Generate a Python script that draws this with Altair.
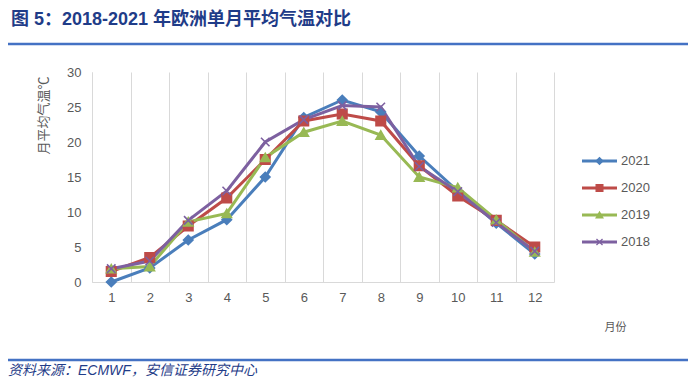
import altair as alt
import pandas as pd

months = list(range(1, 13))
series = ["2021", "2020", "2019", "2018"]
t2021 = [0.0, 2.0, 6.0, 8.9, 15.0, 23.5, 26.0, 24.3, 18.0, 13.0, 8.4, 4.0]
t2020 = [1.5, 3.5, 8.0, 12.0, 17.5, 23.0, 24.0, 23.0, 16.6, 12.3, 8.8, 5.0]
t2019 = [1.9, 2.2, 8.6, 9.8, 17.8, 21.4, 23.0, 21.0, 15.0, 13.5, 8.9, 4.3]
t2018 = [1.9, 3.0, 8.8, 13.0, 20.0, 23.2, 25.2, 25.0, 16.5, 12.9, 8.5, 4.4]
y_ticks = [0, 5, 10, 15, 20, 25, 30]

title_text = "图 5：2018-2021 年欧洲单月平均气温对比"
source_text = "资料来源：ECMWF，安信证券研究中心"

colors = ["#4A7EBB", "#BE4B48", "#98B954", "#7D60A0"]
shapes = ["diamond", "square", "triangle-up", "M-0.9,-0.9L0.9,0.9M-0.9,0.9L0.9,-0.9"]

rows = []
for s, vals in zip(series, [t2021, t2020, t2019, t2018]):
    for m, v in zip(months, vals):
        rows.append({"month": m, "series": s, "temp": v})
df = pd.DataFrame(rows)
leg = pd.DataFrame({"series": series})
one = pd.DataFrame({"a": [0]})

W, H = 462, 210
GRAY = "#595959"
NAVY = "#1F3C88"
CJK = "Noto Sans CJK SC"
LAT = "Liberation Sans"
MIX = "Liberation Sans, Noto Sans CJK SC"

color = alt.Color("series:N", scale=alt.Scale(domain=series, range=colors), legend=None)
stroke = alt.Stroke("series:N", scale=alt.Scale(domain=series, range=colors), legend=None)
shape = alt.Shape("series:N", scale=alt.Scale(domain=series, range=shapes), legend=None)

x = alt.X(
    "month:O",
    scale=alt.Scale(type="band", paddingInner=0, paddingOuter=0),
    axis=alt.Axis(
        title="月份", labelAngle=0, tickBand="extent", grid=True, gridColor="#D9D9D9",
        ticks=False, domainColor="#D9D9D9", labelFont=LAT, labelFontSize=13,
        labelColor=GRAY, labelPadding=9, titleFont=CJK, titleFontSize=11,
        titleFontWeight="normal", titleColor=GRAY, titleX=523, titleY=45,
        titleAlign="center", titleBaseline="middle", titleAngle=0,
    ),
)
y = alt.Y(
    "temp:Q",
    scale=alt.Scale(domain=[0, 30]),
    axis=alt.Axis(
        values=y_ticks, grid=False, ticks=False, domainColor="#D9D9D9",
        labelFont=LAT, labelFontSize=13, labelColor=GRAY, labelPadding=11,
        title="月平均气温℃", titleFont=CJK, titleFontSize=13, titleFontWeight="normal",
        titleColor=GRAY, titleX=-49, titleY=43, titleAngle=270,
        titleAlign="center", titleBaseline="middle",
    ),
)
y_noaxis = alt.Y("temp:Q", scale=alt.Scale(domain=[0, 30]), axis=None)

lines = alt.Chart(df).mark_line(strokeWidth=3).encode(x=x, y=y, color=color)
points = alt.Chart(df).mark_point(filled=True, size=90, strokeWidth=1.6, opacity=1).encode(
    x=x, y=y_noaxis, color=color, stroke=stroke, shape=shape
)

ly = alt.Y("series:N", sort=series,
           scale=alt.Scale(type="point", domain=series, range=[89, 170], padding=0), axis=None)
leg_rule = alt.Chart(leg).mark_rule(strokeWidth=3).encode(
    x=alt.value(490), x2=alt.value(525), y=ly, color=color)
leg_pt = alt.Chart(leg).mark_point(filled=True, size=45, strokeWidth=1.3, opacity=1).encode(
    x=alt.value(507.5), y=ly, color=color, stroke=stroke, shape=shape)
leg_txt = alt.Chart(leg).mark_text(align="left", baseline="middle", fontSize=13,
                                   color=GRAY, font=LAT).encode(
    x=alt.value(529), y=ly, text="series:N")

title = alt.Chart(one).mark_text(align="left", baseline="middle", fontSize=18, fontWeight="bold",
                                 color=NAVY, font=MIX).encode(
    x=alt.value(-81), y=alt.value(-52), text=alt.value(title_text))
top_rule = alt.Chart(one).mark_rule(color="#4472C4", strokeWidth=2.5).encode(
    x=alt.value(-84), x2=alt.value(596), y=alt.value(-28))
bot_rule = alt.Chart(one).mark_rule(color="#4472C4", strokeWidth=2.5).encode(
    x=alt.value(-84), x2=alt.value(596), y=alt.value(288))
source = alt.Chart(one).mark_text(align="left", baseline="bottom", fontSize=14, fontStyle="italic",
                                  color=NAVY, font=MIX).encode(
    x=alt.value(-84), y=alt.value(306), text=alt.value(source_text))

chart = alt.layer(
    lines, points, leg_rule, leg_pt, leg_txt, title, top_rule, bot_rule, source
).resolve_scale(y="independent").properties(
    width=W, height=H,
    autosize=alt.AutoSizeParams(type="none"),
    padding={"left": 84, "top": 64, "right": 137, "bottom": 96},
).configure_view(stroke=None)

chart.save("out.html", embed_options={"renderer": "svg", "actions": False})
